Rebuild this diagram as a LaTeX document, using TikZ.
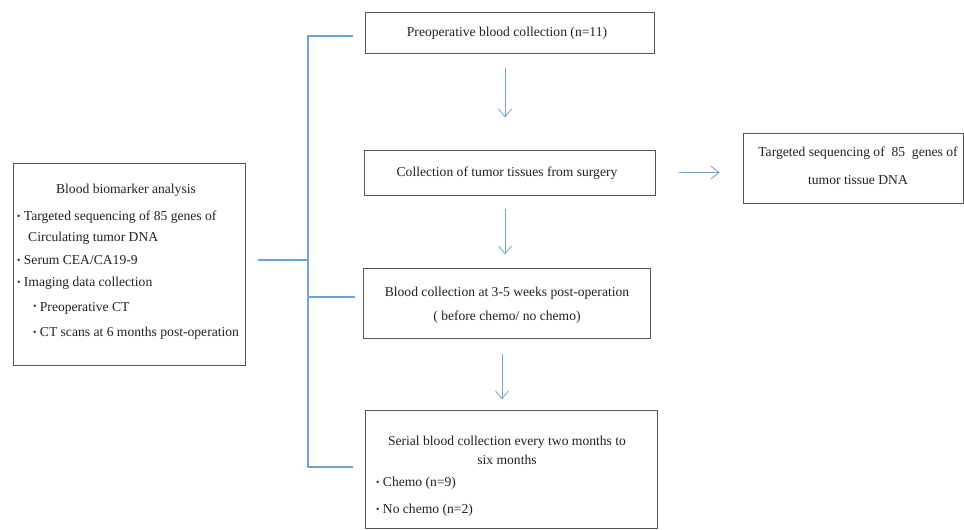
\documentclass[tikz,border=0pt]{standalone}
\usepackage{fontspec}
\setmainfont{Liberation Serif}
\usetikzlibrary{arrows.meta}
\definecolor{boxc}{HTML}{555555}
\definecolor{bluec}{HTML}{6FA3D6}
\definecolor{txtc}{HTML}{222222}
\newcommand{\bul}{\raisebox{0.2ex}{\scalebox{0.7}{\textbullet}}}
\begin{document}
\begin{tikzpicture}[x=1pt,y=-1pt,
  box/.style={draw=boxc,line width=1pt,rectangle,inner sep=0pt,fill=white},
  txt/.style={font=\fontsize{13.6}{15}\selectfont,text=txtc,inner sep=0pt},
  ltxt/.style={txt,anchor=west},
  bl/.style={draw=bluec,line width=1.1pt},
  arr/.style={draw=bluec,line width=0.8pt,-{Straight Barb[length=8pt,width=13pt]}}]
\useasboundingbox[fill=white] (0,0) rectangle (964,530);
% boxes
\node[box,minimum width=232pt,minimum height=202pt] (L) at (129,264) {};
\node[box,minimum width=289pt,minimum height=41pt] (P) at (509.5,32.5) {};
\node[box,minimum width=291pt,minimum height=45pt] (T) at (509.5,172.5) {};
\node[box,minimum width=287pt,minimum height=70pt] (B) at (506.5,303) {};
\node[box,minimum width=292pt,minimum height=118pt] (S) at (511,469) {};
\node[box,minimum width=220pt,minimum height=70pt] (D) at (853,168) {};
% left box text
\node[txt] (l0) at (126,190) {Blood biomarker analysis};
\node[ltxt] (l1) at (17,217) {\bul\ Targeted sequencing of 85 genes of};
\node[ltxt] (l2) at (28,238) {Circulating tumor DNA};
\node[ltxt] (l3) at (17,260) {\bul\ Serum CEA/CA19-9};
\node[ltxt] (l4) at (17,283) {\bul\ Imaging data collection};
\node[ltxt] (l5) at (33,308) {\bul\ Preoperative CT};
\node[ltxt] (l6) at (33,333) {\bul\ CT scans at 6 months post-operation};
% other texts
\node[txt] (p0) at (507,33) {Preoperative blood collection (n=11)};
\node[txt] (t0) at (507,173) {Collection of tumor tissues from surgery};
\node[txt] (b0) at (507,293) {Blood collection at 3-5 weeks post-operation};
\node[txt] (b1) at (507,317) {( before chemo/ no chemo)};
\node[txt] (s0) at (507,442) {Serial blood collection every two months to};
\node[txt] (s1) at (507,460) {six months};
\node[ltxt] (s2) at (376,483) {\bul\ Chemo (n=9)};
\node[ltxt] (s3) at (376,510) {\bul\ No chemo (n=2)};
\node[txt] (d0) at (858,153) {Targeted sequencing of\ \ 85\ \ genes of};
\node[txt] (d1) at (858,180) {tumor tissue DNA};
% bracket
\coordinate (jt) at (308,36);
\coordinate (jl) at (308,260);
\coordinate (jb) at (308,297);
\coordinate (jd) at (308,467);
\draw[bl] ([xshift=-12pt]P.west |- jt) -- (jt) -- (jd) -- ([xshift=-12pt]S.west |- jd);
\draw[bl] ([xshift=12pt]L.east |- jl) -- (jl);
\draw[bl] (jb) -- ([xshift=-8pt]B.west |- jb);
% arrows
\draw[arr] ([xshift=-4.5pt,yshift=-14pt]P.south) -- ([xshift=-4.5pt,yshift=32pt]T.north);
\draw[arr] ([xshift=-4.5pt,yshift=-13pt]T.south) -- ([xshift=-1.5pt,yshift=13pt]B.north);
\draw[arr] ([xshift=-4.5pt,yshift=-15pt]B.south) -- ([xshift=-9pt,yshift=10pt]S.north);
\draw[arr] ([xshift=23pt]T.east) -- ([xshift=-23pt]D.west |- T.east);
\end{tikzpicture}
\end{document}
